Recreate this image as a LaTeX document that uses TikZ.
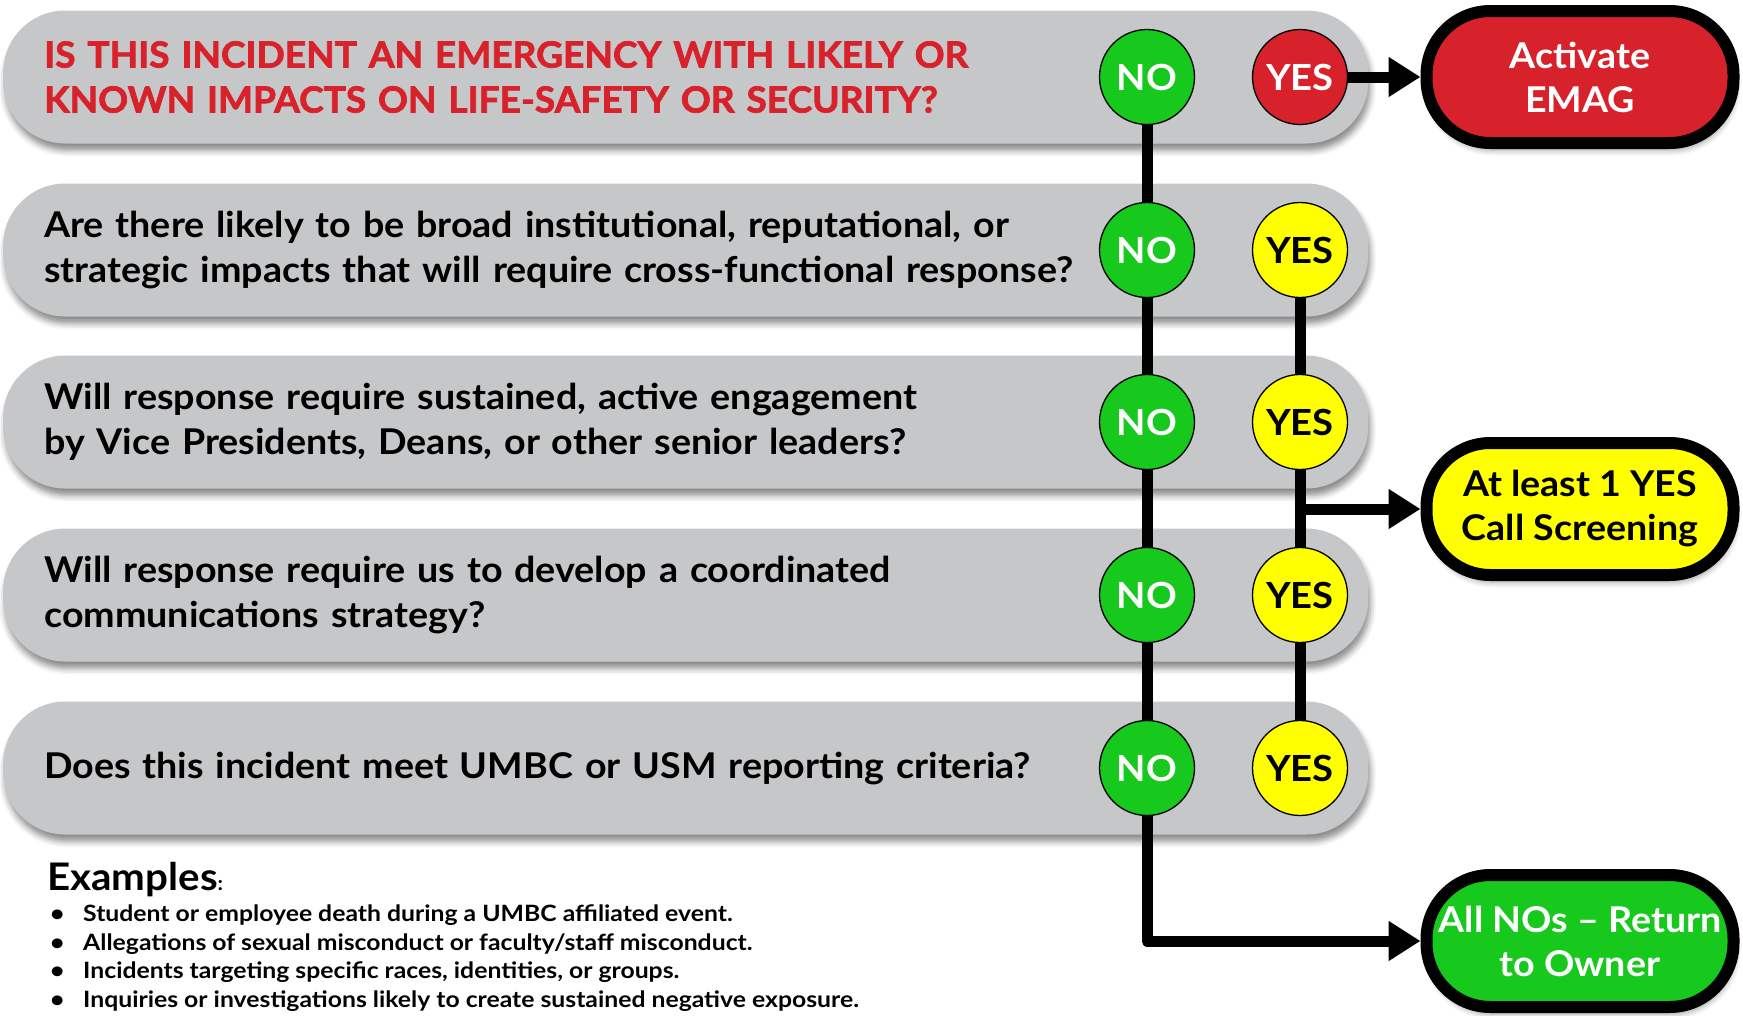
\documentclass[tikz,border=0pt]{standalone}
\usepackage{fontspec}
\setmainfont{Lato}[FakeStretch=1.06]
\newfontfamily\heavyfont{Lato}[FakeStretch=1.03, FakeBold=2]
\newfontfamily\listfont{Lato}[FakeStretch=1.10]
\usepackage{tikz}
\usetikzlibrary{positioning,arrows.meta,shadows,shadows.blur}

\definecolor{barGray}{HTML}{C6C7C9}
\definecolor{emagRed}{HTML}{D8222B}
\definecolor{goGreen}{HTML}{17C81D}
\definecolor{callYellow}{HTML}{FFFF00}

\tikzset{
	qbar/.style={fill=barGray, rounded corners=62pt, minimum width=1365pt, minimum height=133pt,
		text width=1283pt, inner xsep=41pt, inner ysep=0pt, align=left, anchor=west,
		font=\fontsize{35.5}{45}\selectfont\bfseries,
		blur shadow={shadow xshift=2pt, shadow yshift=-7pt, shadow blur radius=6pt, shadow opacity=45}},
	ans/.style={circle, draw=black, line width=1.3pt, minimum size=95pt, inner sep=0pt,
		font=\fontsize{36}{36}\selectfont\bfseries},
	endbox/.style={draw=black, line width=12pt, rounded corners=64pt, minimum width=307pt,
		minimum height=132pt, inner sep=0pt, align=center, font=\fontsize{35.5}{44}\selectfont\bfseries,
		blur shadow={shadow xshift=2pt, shadow yshift=-7pt, shadow blur radius=6pt, shadow opacity=40}},
	link/.style={line width=11pt, line join=round},
	flow/.style={link, -{Triangle[length=32pt,width=38pt]}}
}

\begin{document}
\begin{tikzpicture}[x=1pt,y=-1pt]
	\useasboundingbox (0,0) rectangle (1743,1015);

	\node [qbar] (q1) at (3,77) {\heavyfont\bfseries\fontsize{36}{45}\selectfont\color{emagRed}IS THIS INCIDENT AN EMERGENCY WITH LIKELY OR\\KNOWN IMPACTS ON LIFE-SAFETY OR SECURITY?};
	\node [qbar] (q2) at (3,250) {Are there likely to be broad institutional, reputational, or\\strategic impacts that will require cross-functional response?};
	\node [qbar] (q3) at (3,422) {Will response require sustained, active engagement\\by Vice Presidents, Deans, or other senior leaders?};
	\node [qbar] (q4) at (3,595) {Will response require us to develop a coordinated\\communications strategy?};
	\node [qbar] (q5) at (3,768) {Does this incident meet UMBC or USM reporting criteria?};

	\node [ans, fill=goGreen, text=white] (no1) at (1147,77) {NO};
	\node [ans, fill=goGreen, text=white] (no2) at (1147,250) {NO};
	\node [ans, fill=goGreen, text=white] (no3) at (1147,422) {NO};
	\node [ans, fill=goGreen, text=white] (no4) at (1147,595) {NO};
	\node [ans, fill=goGreen, text=white] (no5) at (1147,768) {NO};

	\node [ans, fill=emagRed, text=white] (yes1) at (1300,77) {YES};
	\node [ans, fill=callYellow] (yes2) at (1300,250) {YES};
	\node [ans, fill=callYellow] (yes3) at (1300,422) {YES};
	\node [ans, fill=callYellow] (yes4) at (1300,595) {YES};
	\node [ans, fill=callYellow] (yes5) at (1300,768) {YES};

	\node [endbox, fill=emagRed, text=white] (emag) at (1580,77) {Activate\\EMAG};
	\node [endbox, fill=callYellow] (screening) at (1580,509) {At least 1 YES\\Call Screening};
	\node [endbox, fill=goGreen, text=white] (owner) at (1580,941) {All NOs -- Return\\to Owner};

	\draw [link] (no1) -- (no2) -- (no3) -- (no4) -- (no5);
	\draw [link] (yes2) -- (yes3) -- (yes4) -- (yes5);
	\draw [flow] (yes1) -- (emag);
	\draw [flow] (yes3 |- screening.west) -- (screening.west);
	\draw [flow] (no5) |- (owner.west);

	\node [anchor=base west, inner sep=0pt, font=\fontsize{38}{38}\selectfont\bfseries] (examples) at (47,890) {Examples{\fontsize{20}{20}\selectfont:}};
	\node [anchor=north west, inner sep=0pt, align=left, font=\listfont\fontsize{22.5}{28.5}\selectfont\bfseries] (cases) at (50,905)
		{\makebox[33pt][l]{\textbullet}Student or employee death during a UMBC affiliated event.\\
		\makebox[33pt][l]{\textbullet}Allegations of sexual misconduct or faculty/staff misconduct.\\
		\makebox[33pt][l]{\textbullet}Incidents targeting specific races, identities, or groups.\\
		\makebox[33pt][l]{\textbullet}Inquiries or investigations likely to create sustained negative exposure.};

\end{tikzpicture}
\end{document}
